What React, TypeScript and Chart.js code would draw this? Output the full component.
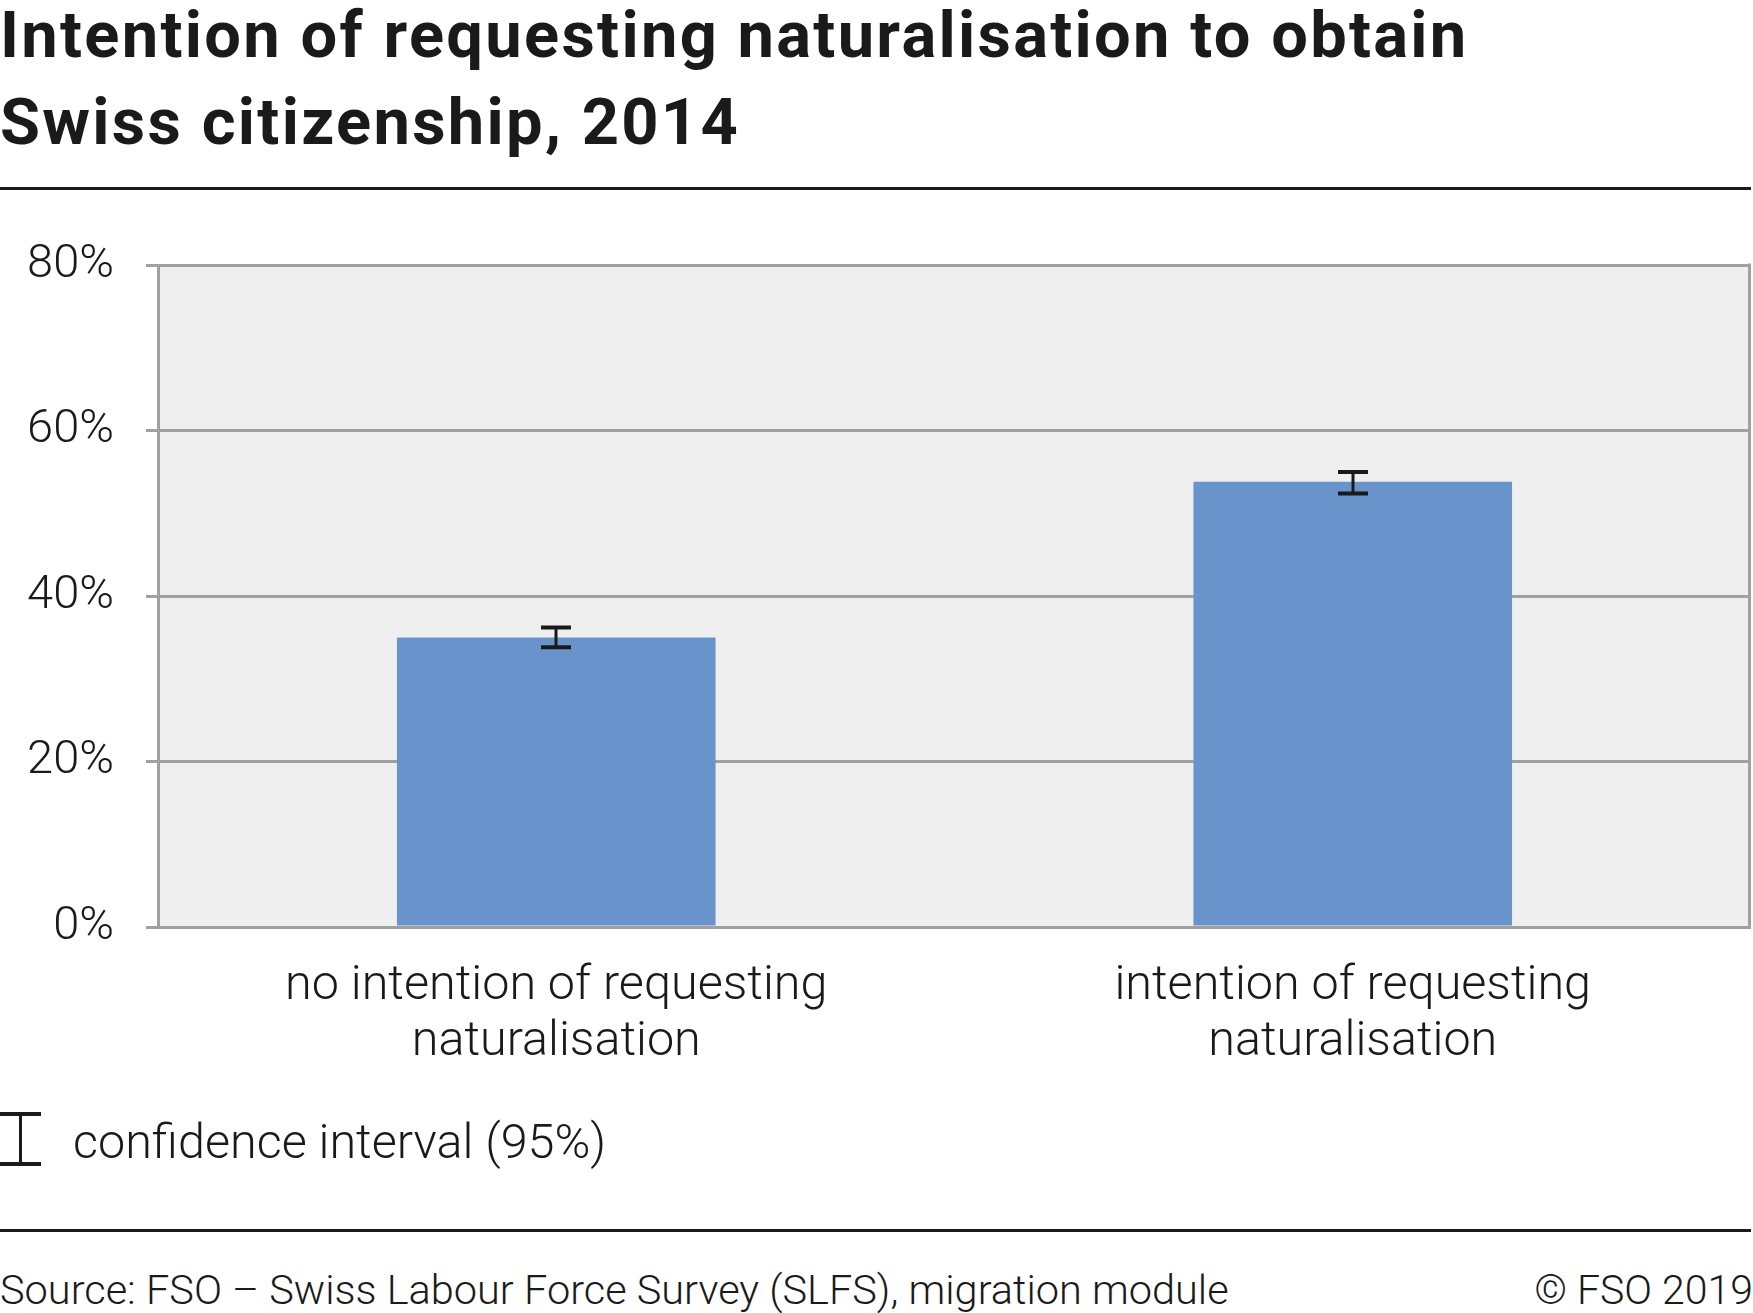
import React, { useEffect, useRef } from "react";
import { Chart, registerables } from "chart.js";

Chart.register(...registerables);

const categories: string[][] = [
  ["no intention of requesting", "naturalisation"],
  ["intention of requesting", "naturalisation"],
];
const shares: number[] = [35.0, 53.8];
const ciLower: number[] = [33.8, 52.4];
const ciUpper: number[] = [36.2, 55.0];
const yTicks: number[] = [0, 20, 40, 60, 80];

const TEXT = "#1a1a1a";
const GRID = "#a0a0a0";
const FONT = "Roboto, 'Noto Sans', sans-serif";

const plotFrame = {
  id: "plotFrame",
  beforeDraw(chart: any) {
    const { ctx, chartArea: a } = chart;
    ctx.save();
    ctx.fillStyle = "#efefef";
    ctx.fillRect(a.left, a.top, a.right - a.left, a.bottom - a.top);
    ctx.restore();
  },
  afterDraw(chart: any) {
    const { ctx, chartArea: a } = chart;
    ctx.save();
    ctx.strokeStyle = GRID;
    ctx.lineWidth = 3;
    ctx.beginPath();
    ctx.moveTo(a.right - 1.5, a.top - 1.5);
    ctx.lineTo(a.right - 1.5, a.bottom + 1.5);
    ctx.stroke();
    ctx.restore();
  },
};

const errorBars = {
  id: "errorBars",
  afterDatasetsDraw(chart: any) {
    const { ctx } = chart;
    const meta = chart.getDatasetMeta(0);
    const y = chart.scales.y;
    ctx.save();
    ctx.strokeStyle = TEXT;
    meta.data.forEach((bar: any, i: number) => {
      const x = Math.round(bar.x);
      const yl = y.getPixelForValue(ciLower[i]);
      const yu = y.getPixelForValue(ciUpper[i]);
      ctx.lineWidth = 3;
      ctx.beginPath();
      ctx.moveTo(x, yu);
      ctx.lineTo(x, yl);
      ctx.stroke();
      ctx.lineWidth = 4;
      ctx.beginPath();
      ctx.moveTo(x - 15, yu);
      ctx.lineTo(x + 15, yu);
      ctx.moveTo(x - 15, yl);
      ctx.lineTo(x + 15, yl);
      ctx.stroke();
    });
    ctx.restore();
  },
};

function ChartCanvas() {
  const ref = useRef<HTMLCanvasElement>(null);
  useEffect(() => {
    if (!ref.current) return;
    const chart = new Chart(ref.current, {
      type: "bar",
      data: {
        labels: categories as any,
        datasets: [
          {
            data: shares,
            backgroundColor: "#6893cb",
            borderWidth: 0,
            barPercentage: 0.4,
            categoryPercentage: 1,
          },
        ],
      },
      options: {
        animation: false,
        responsive: false,
        devicePixelRatio: 1,
        layout: { padding: { top: 65, right: 2, left: 0, bottom: 0 } },
        plugins: { legend: { display: false }, tooltip: { enabled: false } },
        scales: {
          x: {
            grid: { display: false, drawTicks: false },
            border: { display: false },
            ticks: {
              color: TEXT,
              padding: 32,
              maxRotation: 0,
              autoSkip: false,
              font: { family: FONT, size: 48.5, weight: "300" as any, lineHeight: 56 / 48.5 },
            },
            afterFit: (s: any) => {
              s.height = 153;
            },
          },
          y: {
            min: 0,
            max: 80,
            afterBuildTicks: (s: any) => {
              s.ticks = yTicks.map((v) => ({ value: v }));
            },
            grid: { color: GRID, lineWidth: 3, tickLength: 12, drawTicks: true },
            border: { display: true, color: GRID, width: 3 },
            ticks: {
              color: TEXT,
              padding: 32,
              font: { family: FONT, size: 47, weight: "300" as any },
              callback: (v: any) => v + "%",
            },
            afterFit: (s: any) => {
              s.width = 158;
            },
          },
        },
      },
      plugins: [plotFrame, errorBars],
    });
    return () => chart.destroy();
  }, []);
  return (
    <canvas
      ref={ref}
      width={1753}
      height={880}
      style={{ position: "absolute", left: 0, top: 200, width: 1753, height: 880 }}
    />
  );
}

export default function App() {
  return (
    <div
      style={{
        position: "absolute",
        left: 0,
        top: 0,
        width: 1753,
        height: 1313,
        background: "#fff",
        fontFamily: FONT,
        color: TEXT,
        overflow: "hidden",
      }}
    >
      <div
        style={{
          position: "absolute",
          left: 0,
          top: -8,
          fontSize: 65,
          lineHeight: "87px",
          fontWeight: 700,
          letterSpacing: "2.3px",
          whiteSpace: "nowrap",
        }}
      >
        Intention of requesting naturalisation to obtain
        <br />
        Swiss citizenship, 2014
      </div>
      <div style={{ position: "absolute", left: 0, top: 187, width: 1751, height: 3, background: TEXT }} />
      <ChartCanvas />
      <div style={{ position: "absolute", left: 19, top: 1112, width: 3, height: 53, background: TEXT }} />
      <div style={{ position: "absolute", left: 0, top: 1112, width: 41, height: 4, background: TEXT }} />
      <div style={{ position: "absolute", left: 0, top: 1162, width: 41, height: 4, background: TEXT }} />
      <div
        style={{
          position: "absolute",
          left: 73,
          top: 1114,
          fontSize: 48.5,
          lineHeight: "56px",
          fontWeight: 300,
          whiteSpace: "nowrap",
        }}
      >
        confidence interval (95%)
      </div>
      <div style={{ position: "absolute", left: 0, top: 1229, width: 1751, height: 3, background: TEXT }} />
      <div
        style={{
          position: "absolute",
          left: 0,
          top: 1265,
          fontSize: 41.5,
          lineHeight: "50px",
          fontWeight: 300,
          whiteSpace: "nowrap",
        }}
      >
        Source: FSO – Swiss Labour Force Survey (SLFS), migration module
      </div>
      <div
        style={{
          position: "absolute",
          right: 0,
          top: 1265,
          fontSize: 41,
          lineHeight: "50px",
          fontWeight: 300,
          whiteSpace: "nowrap",
        }}
      >
        © FSO 2019
      </div>
    </div>
  );
}
